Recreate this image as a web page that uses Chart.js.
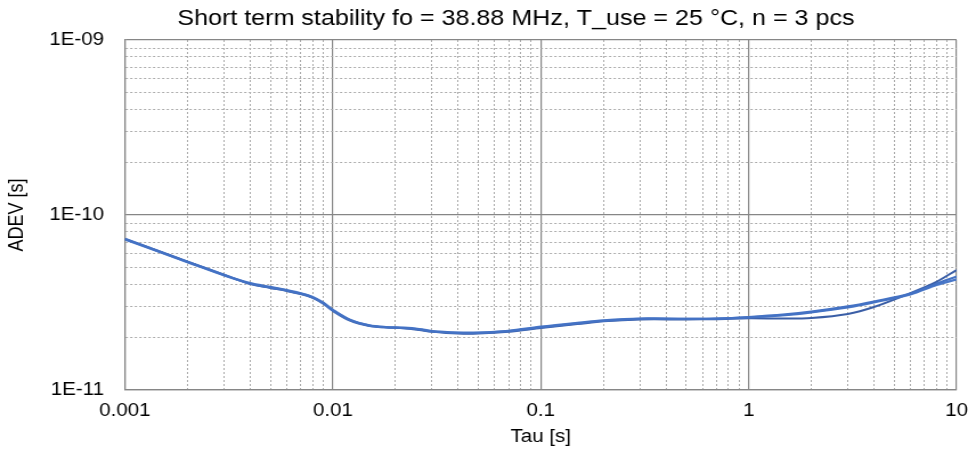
<!DOCTYPE html>
<html>
<head>
<meta charset="utf-8">
<title>Short term stability</title>
<script src="https://cdn.jsdelivr.net/npm/chart.js@4.4.1/dist/chart.umd.min.js"></script>
<style>
  html, body { margin: 0; padding: 0; background: #fff; }
</style>
</head>
<body>
<!-- drawn at 849 wide, shown at 968 (the source image is stretched sideways) -->
<canvas id="chart" width="849" height="450" style="width:968px;height:450px"></canvas>
<script>
// ─── DATA ────────────────────────────────────────────────────────────────────
const chartTitle = 'Short term stability fo = 38.88 MHz, T_use = 25 °C, n = 3 pcs';
const xTitle = 'Tau [s]';
const yTitle = 'ADEV [s]';

const tau = [0.001, 0.002, 0.003, 0.004, 0.005, 0.006, 0.007, 0.008, 0.009, 0.01,
  0.012, 0.015, 0.018, 0.022, 0.026, 0.03, 0.04, 0.05, 0.07, 0.1,
  0.15, 0.2, 0.3, 0.5, 0.7, 1, 1.5, 2, 3, 4, 6, 8, 10];

const adev1 = [7.3e-11, 5.4e-11, 4.55e-11, 4.05e-11, 3.85e-11, 3.7e-11, 3.55e-11, 3.38e-11, 3.13e-11, 2.85e-11,
  2.52e-11, 2.33e-11, 2.28e-11, 2.26e-11, 2.22e-11, 2.16e-11, 2.12e-11, 2.12e-11, 2.17e-11, 2.28e-11,
  2.40e-11, 2.48e-11, 2.55e-11, 2.55e-11, 2.56e-11, 2.61e-11, 2.70e-11, 2.80e-11, 3.00e-11, 3.20e-11, 3.55e-11, 4.05e-11, 4.45e-11];

const adev2 = [7.25e-11, 5.38e-11, 4.52e-11, 4.08e-11, 3.88e-11, 3.72e-11, 3.57e-11, 3.40e-11, 3.15e-11, 2.87e-11,
  2.53e-11, 2.34e-11, 2.29e-11, 2.27e-11, 2.23e-11, 2.17e-11, 2.13e-11, 2.13e-11, 2.18e-11, 2.30e-11,
  2.42e-11, 2.50e-11, 2.56e-11, 2.55e-11, 2.56e-11, 2.60e-11, 2.68e-11, 2.78e-11, 2.97e-11, 3.17e-11, 3.52e-11, 3.98e-11, 4.29e-11];

const adev3 = [7.3e-11, 5.42e-11, 4.55e-11, 4.03e-11, 3.83e-11, 3.68e-11, 3.53e-11, 3.36e-11, 3.11e-11, 2.83e-11,
  2.50e-11, 2.32e-11, 2.28e-11, 2.25e-11, 2.20e-11, 2.15e-11, 2.10e-11, 2.10e-11, 2.15e-11, 2.26e-11,
  2.38e-11, 2.47e-11, 2.53e-11, 2.53e-11, 2.54e-11, 2.57e-11, 2.56e-11, 2.58e-11, 2.72e-11, 2.98e-11, 3.58e-11, 4.15e-11, 4.85e-11];

// ─── HELPERS ─────────────────────────────────────────────────────────────────
const FONT = "'Liberation Sans', Arial, sans-serif";
const MAJOR = '#868686';
const MINOR = '#ababab';

function isDecade(v) {
  const l = Math.log10(v);
  return Math.abs(l - Math.round(l)) < 1e-6;
}
// log scale in v4 may add 1.5 / 15 ticks, keep only 1..9 per decade
function wholeMantissa(v) {
  const m = v / Math.pow(10, Math.floor(Math.log10(v) + 1e-9));
  return Math.abs(m - Math.round(m)) < 1e-6;
}
function fmtX(v) { return String(Number(v.toPrecision(1))); }
function fmtY(v) {
  const e = Math.round(Math.log10(v));
  return '1E' + (e < 0 ? '-' : '+') + String(Math.abs(e)).padStart(2, '0');
}
const gridColor = c => (c.tick && isDecade(c.tick.value)) ? MAJOR : MINOR;
const gridWidth = c => (c.tick && isDecade(c.tick.value)) ? 1.2 : 1;
const gridDash = c => (c.tick && !isDecade(c.tick.value)) ? [2, 2] : [];

const series = (ys) => tau.map((t, i) => ({ x: t, y: ys[i] }));

// title sits a bit right of the canvas centre in the original
const shiftTitle = {
  id: 'shiftTitle',
  afterLayout(chart) {
    const t = chart.titleBlock;
    if (t) { t.left += 28; t.right += 28; }
  }
};

// ─── CHART ───────────────────────────────────────────────────────────────────
Chart.defaults.font.family = FONT;
Chart.defaults.color = '#000';

new Chart(document.getElementById('chart'), {
  type: 'line',
  data: {
    datasets: [
      { data: series(adev1), borderColor: '#4472c4', borderWidth: 2.3 },
      { data: series(adev2), borderColor: '#4a78c8', borderWidth: 2.3 },
      { data: series(adev3), borderColor: '#3a5ea6', borderWidth: 2 }
    ].map(d => Object.assign(d, { fill: false, tension: 0.3, pointRadius: 0 }))
  },
  options: {
    responsive: false,
    devicePixelRatio: 1,
    animation: false,
    layout: { padding: 0 },
    plugins: {
      legend: { display: false },
      tooltip: { enabled: false },
      title: {
        display: true, text: chartTitle, color: '#000',
        font: { size: 22, weight: 'normal' },
        padding: { top: 6, bottom: 7.6 }
      }
    },
    scales: {
      x: {
        type: 'logarithmic', min: 0.001, max: 10, position: 'bottom',
        afterBuildTicks: s => { s.ticks = s.ticks.filter(t => wholeMantissa(t.value)); },
        // fixed height; only half of the "10" label should stick out on the right
        afterFit: s => { s.height = 60; s.paddingRight = 10; },
        ticks: { autoSkip: false, maxRotation: 0, padding: 10.7, font: { size: 18 },
                 callback: v => isDecade(v) ? fmtX(v) : '' },
        grid: { drawTicks: false, color: gridColor, lineWidth: gridWidth },
        border: { color: MAJOR, width: 1.2, dash: gridDash },
        title: { display: true, text: xTitle, font: { size: 18 }, padding: { top: 0, bottom: 2.2 } }
      },
      y: {
        type: 'logarithmic', min: 1e-11, max: 1e-9,
        afterBuildTicks: s => { s.ticks = s.ticks.filter(t => wholeMantissa(t.value)); },
        afterFit: s => { s.width = 109.6; },
        ticks: { autoSkip: false, padding: 18.4, font: { size: 18 },
                 callback: v => isDecade(v) ? fmtY(v) : '' },
        grid: { drawTicks: false, color: gridColor, lineWidth: gridWidth },
        border: { color: MAJOR, width: 1.2, dash: gridDash },
        title: { display: true, text: yTitle, font: { size: 18 }, padding: { top: 4.5, bottom: 0 } }
      }
    }
  },
  plugins: [shiftTitle]
});
</script>
</body>
</html>
